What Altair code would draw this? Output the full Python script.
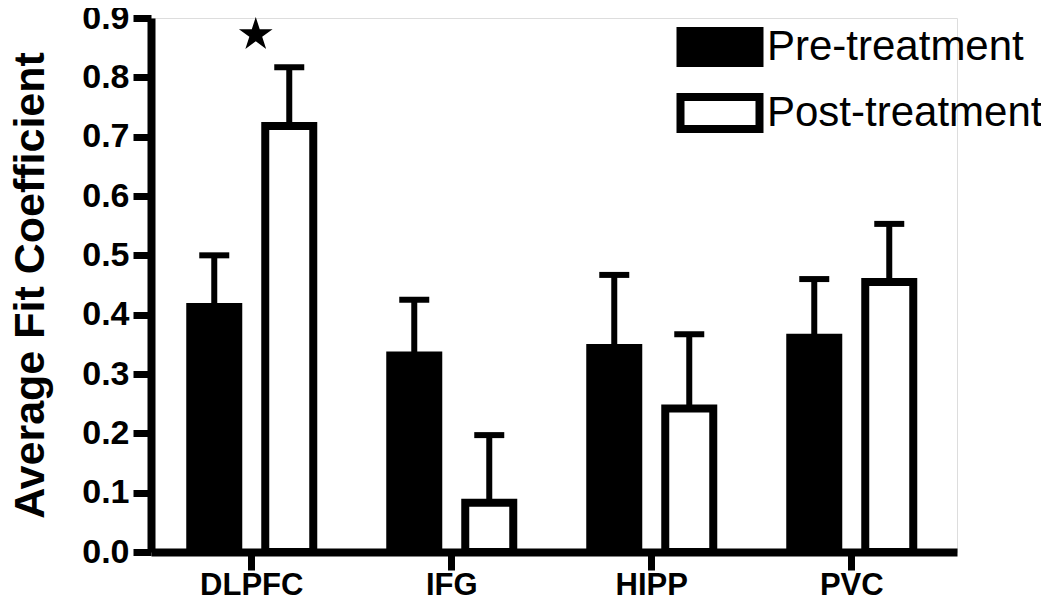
import altair as alt
import pandas as pd

regions = ["DLPFC", "IFG", "HIPP", "PVC"]
groups = ["Pre-treatment", "Post-treatment"]
pre_mean = [0.413, 0.331, 0.344, 0.361]
pre_sem = [0.087, 0.094, 0.123, 0.099]
post_mean = [0.718, 0.083, 0.242, 0.455]
post_sem = [0.099, 0.114, 0.125, 0.098]
star_region = ["DLPFC"]
star_y = [0.872]
y_ticks = [0.0, 0.1, 0.2, 0.3, 0.4, 0.5, 0.6, 0.7, 0.8, 0.9]

rows = []
for r, m, s in zip(regions, pre_mean, pre_sem):
    rows.append({"region": r, "group": groups[0], "mean": m, "upper": round(m + s, 3)})
for r, m, s in zip(regions, post_mean, post_sem):
    rows.append({"region": r, "group": groups[1], "mean": m, "upper": round(m + s, 3)})
df = pd.DataFrame(rows)
star_df = pd.DataFrame({"region": star_region, "y": star_y})

FONT = "Liberation Sans"
legend_shape = "M-2,-0.81H2V0.81H-2Z"
star_shape = ("M0,-1L0.2245,-0.309L0.951,-0.309L0.363,0.118L0.588,0.809L0,0.382"
              "L-0.588,0.809L-0.363,0.118L-0.951,-0.309L-0.2245,-0.309Z")

x_enc = alt.X(
    "region:N",
    sort=regions,
    scale=alt.Scale(domain=regions, paddingInner=0.25, paddingOuter=0.14, align=0.46),
    axis=alt.Axis(
        title=None, labelAngle=0, labelFont=FONT, labelFontSize=31, labelFontWeight="bold",
        labelColor="black", domainColor="black", domainWidth=8, tickColor="black",
        tickWidth=7, tickSize=18, labelPadding=0, grid=False,
    ),
)
xoff_enc = alt.XOffset("group:N", sort=groups,
                       scale=alt.Scale(domain=groups, paddingInner=0.36, paddingOuter=0.18))
y_scale = alt.Scale(domain=[0, 0.9], nice=False)
y_axis = alt.Axis(
    title="Average Fit Coefficient", values=y_ticks, format=".1f",
    labelFont=FONT, labelFontSize=34, labelFontWeight="bold", labelColor="black",
    titleFont=FONT, titleFontSize=43, titleFontWeight="bold", titleColor="black",
    titlePadding=29, domainColor="black", domainWidth=8, tickColor="black",
    tickWidth=7, tickSize=18, labelPadding=4, grid=False,
)

base = alt.Chart(df)

rules = base.mark_rule(color="black", strokeWidth=6).encode(
    x=x_enc, xOffset=xoff_enc,
    y=alt.Y("mean:Q", scale=y_scale, axis=y_axis),
    y2="upper:Q",
)
caps = base.mark_tick(color="black", thickness=6, size=30, opacity=1).encode(
    x=x_enc, xOffset=xoff_enc,
    y=alt.Y("upper:Q", scale=y_scale),
)
bars = base.mark_bar(stroke="black", strokeWidth=8, opacity=1).encode(
    x=x_enc, xOffset=xoff_enc,
    y=alt.Y("mean:Q", scale=y_scale, axis=y_axis),
    fill=alt.Fill(
        "group:N",
        sort=groups,
        scale=alt.Scale(domain=groups, range=["black", "white"]),
        legend=alt.Legend(
            title=None, orient="none", legendX=545, legendY=5, padding=0,
            symbolType=legend_shape, symbolSize=1560, symbolStrokeColor="black",
            symbolStrokeWidth=8, symbolOpacity=1,
            labelFont=FONT, labelFontSize=42, labelColor="black", labelOffset=23,
            labelLimit=400, rowPadding=2,
        ),
    ),
)
star = alt.Chart(star_df).mark_point(
    shape=star_shape, filled=True, color="black", size=1252, opacity=1, xOffset=4
).encode(
    x=alt.X("region:N", sort=regions, scale=alt.Scale(domain=regions)),
    y=alt.Y("y:Q", scale=y_scale),
)

chart = alt.layer(rules, caps, bars, star).properties(
    width=806, height=534,
    autosize=alt.AutoSizeParams(type="none"),
    padding={"left": 143, "top": 10, "right": 84, "bottom": 53},
).configure_view(strokeWidth=0).configure(background="white")

chart.save("out.html", embed_options={"renderer": "svg", "actions": False})
